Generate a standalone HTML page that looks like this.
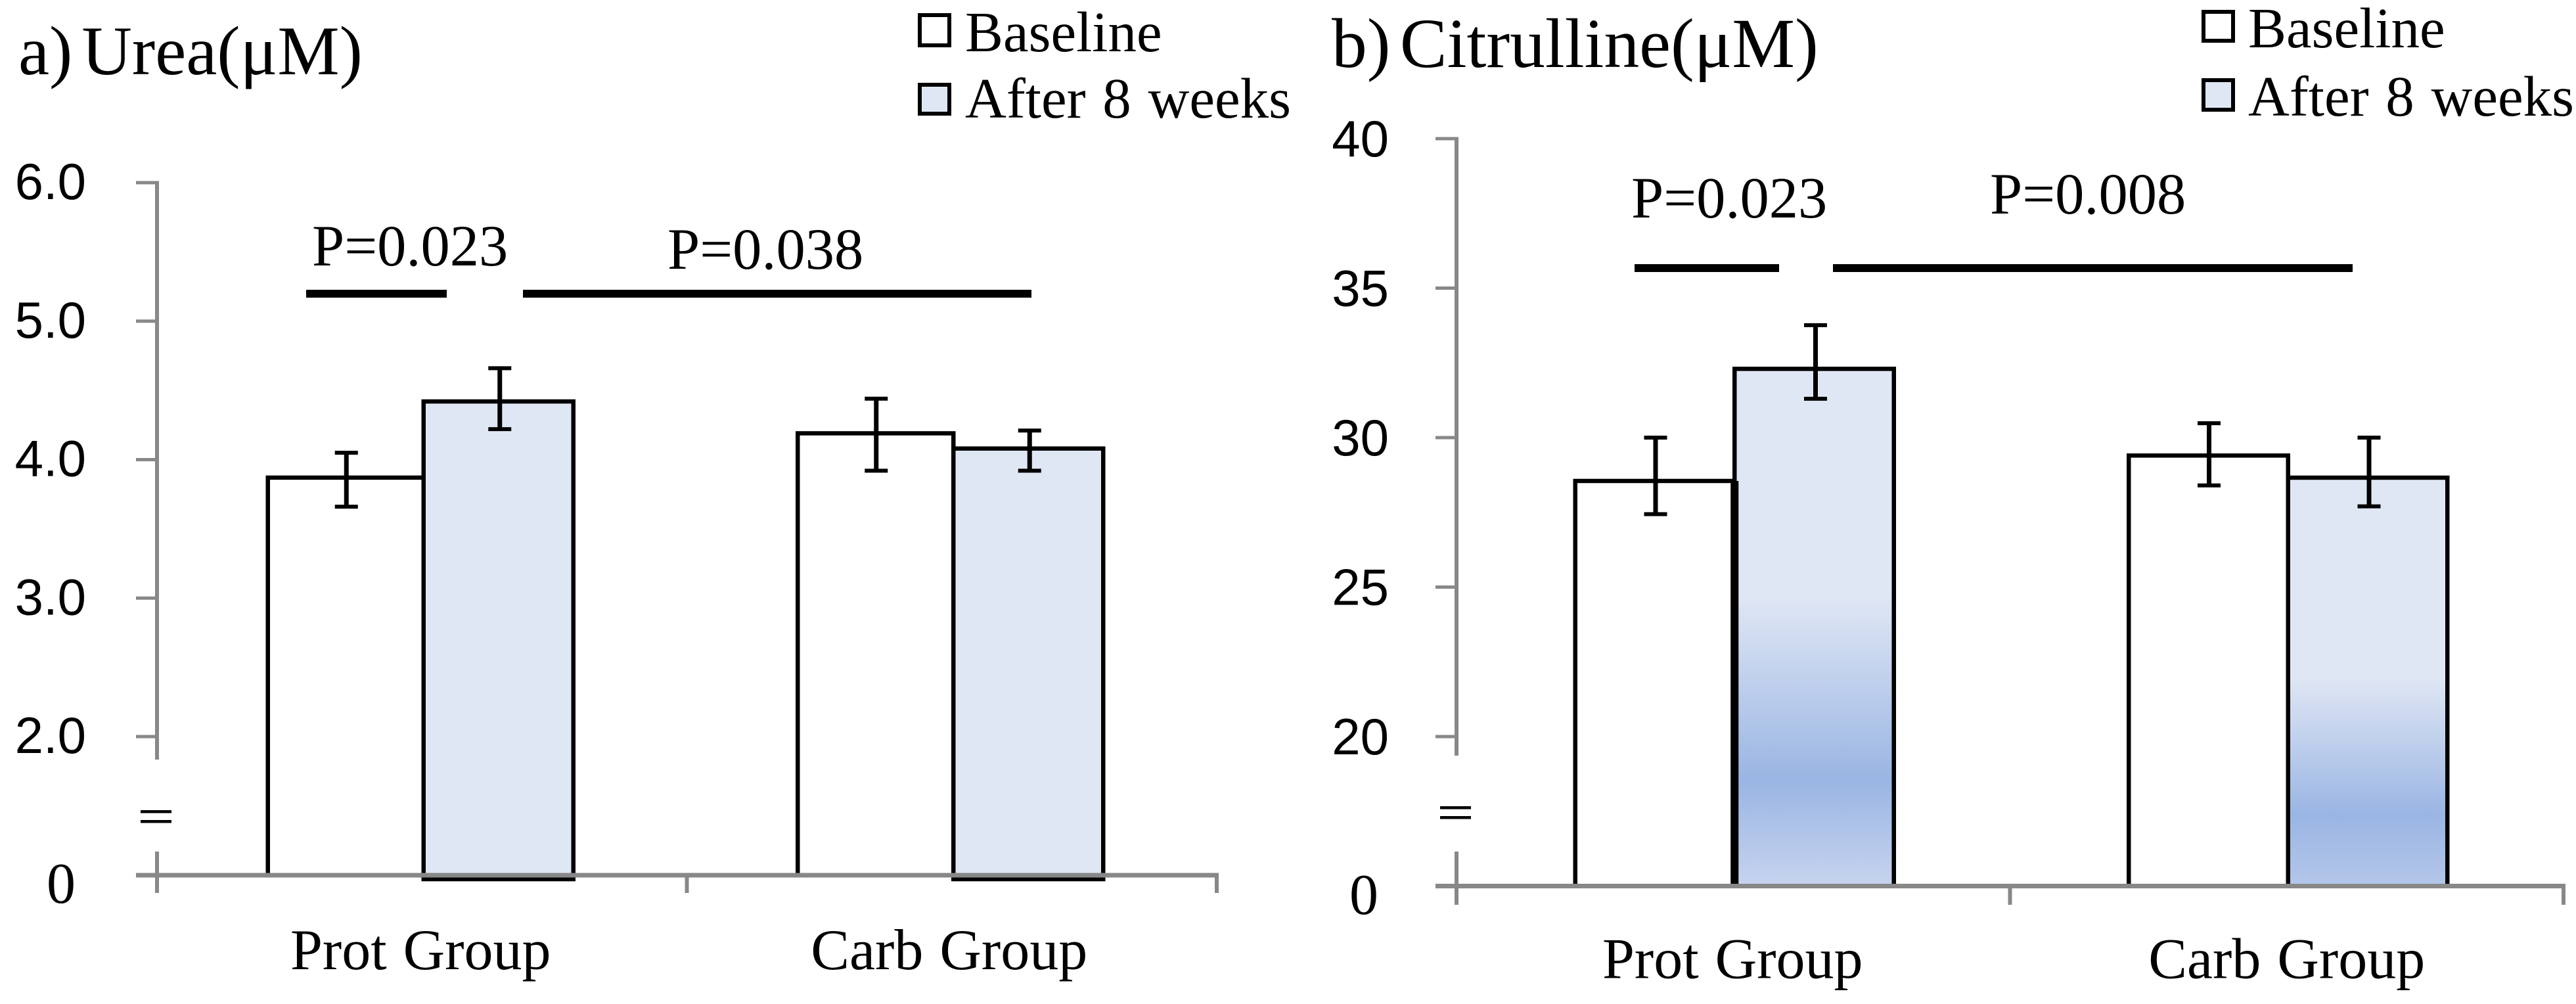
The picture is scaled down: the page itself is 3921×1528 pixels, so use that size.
<!DOCTYPE html>
<html lang="en">
<head>
<meta charset="utf-8">
<title>Urea and Citrulline bar charts</title>
<style>
html,body{margin:0;padding:0;background:#fff;}
svg{display:block;}
text{fill:#000;}
.serif{font-family:"Liberation Serif",serif;}
.sans{font-family:"Liberation Sans",sans-serif;}
.title{font-size:106px;word-spacing:-12.5px;}
.title-b{font-size:107.5px;word-spacing:-12.5px;}
.note{font-size:88.5px;}
.legend{font-size:87px;word-spacing:4px;}
.tick{font-size:78px;}
.zero{font-size:88px;}
.cat{font-size:88px;word-spacing:3px;}
</style>
</head>
<body>
<svg id="chart" xmlns="http://www.w3.org/2000/svg" width="3921" height="1528" viewBox="0 0 3921 1528">
  <defs>
    <linearGradient id="fill-prot" gradientUnits="userSpaceOnUse" x1="0" x2="0" y1="561" y2="1344">
      <stop offset="0" stop-color="#e0e7f4"/>
      <stop offset="0.44" stop-color="#e0e7f4"/>
      <stop offset="0.80" stop-color="#9ab5e3"/>
      <stop offset="1" stop-color="#c5d3ee"/>
    </linearGradient>
    <linearGradient id="fill-carb" gradientUnits="userSpaceOnUse" x1="0" x2="0" y1="727" y2="1344">
      <stop offset="0" stop-color="#e0e7f4"/>
      <stop offset="0.49" stop-color="#e0e7f4"/>
      <stop offset="0.833" stop-color="#9ab5e3"/>
      <stop offset="1" stop-color="#b3c6e9"/>
    </linearGradient>
  </defs>
  <rect x="0" y="0" width="3921" height="1528" fill="#fff"/>

  <g id="panel-a">
    <text class="serif title" x="28" y="113">a) Urea(μM)</text>
    <g>
      <rect x="1400" y="23" width="45" height="46" fill="#fff" stroke="#000" stroke-width="6"/>
      <text class="serif legend" x="1469" y="78">Baseline</text>
      <rect x="1400" y="129" width="45" height="44" fill="#e0e7f4" stroke="#000" stroke-width="6"/>
      <text class="serif legend" x="1469" y="179">After 8 weeks</text>
    </g>
    <text class="serif note" x="475" y="404">P=0.023</text>
    <text class="serif note" x="1016" y="409">P=0.038</text>
    <rect x="466" y="441" width="214" height="12" fill="#000"/>
    <rect x="796" y="441" width="774" height="12" fill="#000"/>
  </g>

  <g id="panel-b">
    <text class="serif title-b" x="2027" y="102">b) Citrulline(μM)</text>
    <g>
      <rect x="3354" y="18" width="45" height="44" fill="#fff" stroke="#000" stroke-width="6"/>
      <text class="serif legend" x="3422" y="72">Baseline</text>
      <rect x="3354" y="122" width="45" height="45" fill="#e0e7f4" stroke="#000" stroke-width="6"/>
      <text class="serif legend" x="3422" y="176">After 8 weeks</text>
    </g>
    <text class="serif note" x="2483" y="331">P=0.023</text>
    <text class="serif note" x="3029" y="325">P=0.008</text>
    <rect x="2488" y="402" width="220" height="12" fill="#000"/>
    <rect x="2790" y="402" width="791" height="12" fill="#000"/>
  </g>
</svg>
<script>
const categories = ['Prot Group', 'Carb Group'];

const ureaTicks = [2, 3, 4, 5, 6];
const ureaTickLabels = ['2.0', '3.0', '4.0', '5.0', '6.0'];
const ureaBaseline = [3.87, 4.19];
const ureaAfter = [4.42, 4.08];
const ureaBaselineHigh = [4.05, 4.44];
const ureaBaselineLow = [3.66, 3.92];
const ureaAfterHigh = [4.66, 4.21];
const ureaAfterLow = [4.22, 3.92];

const citrullineTicks = [20, 25, 30, 35, 40];
const citrullineTickLabels = ['20', '25', '30', '35', '40'];
const citrullineBaseline = [28.55, 29.4];
const citrullineAfter = [32.3, 28.66];
const citrullineBaselineHigh = [30.0, 30.48];
const citrullineBaselineLow = [27.44, 28.4];
const citrullineAfterHigh = [33.76, 30.0];
const citrullineAfterLow = [31.3, 27.7];

const NS = 'http://www.w3.org/2000/svg';

function shape(parent, tag, props) {
  const el = document.createElementNS(NS, tag);
  Object.keys(props).forEach(function (k) { el.setAttribute(k, props[k]); });
  parent.appendChild(el);
  return el;
}

function drawPanel(cfg) {
  const root = document.getElementById(cfg.id);
  const yScale = function (v) {
    return cfg.yBottom + (v - cfg.vBottom) * (cfg.yTop - cfg.yBottom) / (cfg.vTop - cfg.vBottom);
  };
  const band = (cfg.xEnd - cfg.xAxis) / categories.length;
  const xCenter = function (i) { return cfg.xAxis + band * (i + 0.5); };

  categories.forEach(function (name, i) {
    const c = xCenter(i);
    const xa = c + cfg.barLeft;
    const xb = c + cfg.barMid;
    const xc = c + cfg.barRight;
    const yBase = yScale(cfg.baseline[i]);
    const yAfter = yScale(cfg.after[i]);

    const baseBar = shape(root, 'rect', {x: xa, y: yBase, width: xb - xa, height: cfg.yZero - yBase, fill: '#fff', stroke: '#000', 'stroke-width': 6.5});
    
    

    const afterBar = shape(root, 'rect', {x: xb, y: yAfter, width: xc - xb, height: cfg.yZero - yAfter + cfg.afterDrop, fill: cfg.afterFills[i], stroke: '#000', 'stroke-width': 6.5});
    
    

    if (cfg.thickDivider[i]) {
      const divider = shape(root, 'rect', {x: xb - 6, y: yBase, width: 12, height: cfg.yZero - yBase, fill: '#000'});
      
      
    }

    const errorSets = [
      {x: (xa + xb) / 2 + 1, hi: cfg.baselineHigh[i], lo: cfg.baselineLow[i]},
      {x: (xb + xc) / 2 + 2, hi: cfg.afterHigh[i], lo: cfg.afterLow[i]}
    ];
    errorSets.forEach(function (e) {
      const yHi = yScale(e.hi);
      const yLo = yScale(e.lo);
      const stem = shape(root, 'line', {x1: e.x, x2: e.x, y1: yHi, y2: yLo, stroke: '#000', 'stroke-width': 7});
      
      
      const capTop = shape(root, 'line', {x1: e.x - 17.5, x2: e.x + 17.5, y1: yHi, y2: yHi, stroke: '#000', 'stroke-width': 6});
      
      
      const capBottom = shape(root, 'line', {x1: e.x - 17.5, x2: e.x + 17.5, y1: yLo, y2: yLo, stroke: '#000', 'stroke-width': 6});
      
      
    });

    const label = shape(root, 'text', {x: c + cfg.catShift[i], y: cfg.catY, 'text-anchor': 'middle', 'class': 'serif cat'});
    
    
    label.textContent = name;
  });

  const axisColor = '#888888';
  const axisUpper = shape(root, 'line', {x1: cfg.xAxis, x2: cfg.xAxis, y1: cfg.yTop - 2.5, y2: cfg.breakTop, stroke: axisColor, 'stroke-width': 6});
  
  
  const axisLower = shape(root, 'line', {x1: cfg.xAxis, x2: cfg.xAxis, y1: cfg.breakBottom, y2: cfg.tickBottom, stroke: axisColor, 'stroke-width': 6});
  
  

  const xAxis = shape(root, 'rect', {x: cfg.xAxis - 32, y: cfg.yZero - 3.5, width: cfg.xEnd - cfg.xAxis + 35, height: 7, fill: axisColor});
  
  

  [1, 2].forEach(function (n) {
    const tx = cfg.xAxis + band * n;
    const tick = shape(root, 'line', {x1: tx, x2: tx, y1: cfg.yZero, y2: cfg.tickBottom, stroke: axisColor, 'stroke-width': 6});
    
    
  });

  cfg.ticks.forEach(function (v, i) {
    const y = yScale(v);
    const tick = shape(root, 'line', {x1: cfg.xAxis - 32, x2: cfg.xAxis, y1: y, y2: y, stroke: axisColor, 'stroke-width': 5});
    
    
    const label = shape(root, 'text', {x: cfg.tickLabelX, y: y + cfg.tickLabelDy, 'text-anchor': 'end', 'class': 'sans tick'});
    
    
    label.textContent = cfg.tickLabels[i];
  });

  const zero = shape(root, 'text', {x: cfg.zeroX, y: cfg.zeroY, 'class': 'serif zero'});
  
  
  zero.textContent = '0';

  cfg.breakMarks.forEach(function (y) {
    const mark = shape(root, 'rect', {x: cfg.xAxis - 25, y: y - 2, width: 47, height: 4.5, fill: '#000'});
    
    
  });
}

drawPanel({
  id: 'panel-a', xAxis: 239, xEnd: 1852, yTop: 278, yBottom: 1121, vTop: 6, vBottom: 2, yZero: 1332,
  breakTop: 1156, breakBottom: 1296, tickBottom: 1359,
  barLeft: -234.5, barMid: 2.5, barRight: 230.5, afterDrop: 6,
  afterFills: ['#e0e7f4', '#e0e7f4'], thickDivider: [false, false],
  catShift: [-2, -4], catY: 1475, tickLabelX: 131, tickLabelDy: 25,
  zeroX: 71, zeroY: 1374, breakMarks: [1235, 1250],
  ticks: ureaTicks, tickLabels: ureaTickLabels,
  baseline: ureaBaseline, after: ureaAfter,
  baselineHigh: ureaBaselineHigh, baselineLow: ureaBaselineLow,
  afterHigh: ureaAfterHigh, afterLow: ureaAfterLow
});

drawPanel({
  id: 'panel-b', xAxis: 2217, xEnd: 3902, yTop: 211, yBottom: 1121, vTop: 40, vBottom: 20, yZero: 1348.5,
  breakTop: 1150, breakBottom: 1296, tickBottom: 1377,
  barLeft: -240.5, barMid: 2, barRight: 244.5, afterDrop: 0,
  afterFills: ['url(#fill-prot)', 'url(#fill-carb)'], thickDivider: [true, false],
  catShift: [-1, 0], catY: 1488.5, tickLabelX: 2114, tickLabelDy: 27,
  zeroX: 2054, zeroY: 1391, breakMarks: [1229, 1244],
  ticks: citrullineTicks, tickLabels: citrullineTickLabels,
  baseline: citrullineBaseline, after: citrullineAfter,
  baselineHigh: citrullineBaselineHigh, baselineLow: citrullineBaselineLow,
  afterHigh: citrullineAfterHigh, afterLow: citrullineAfterLow
});
</script>
</body>
</html>
